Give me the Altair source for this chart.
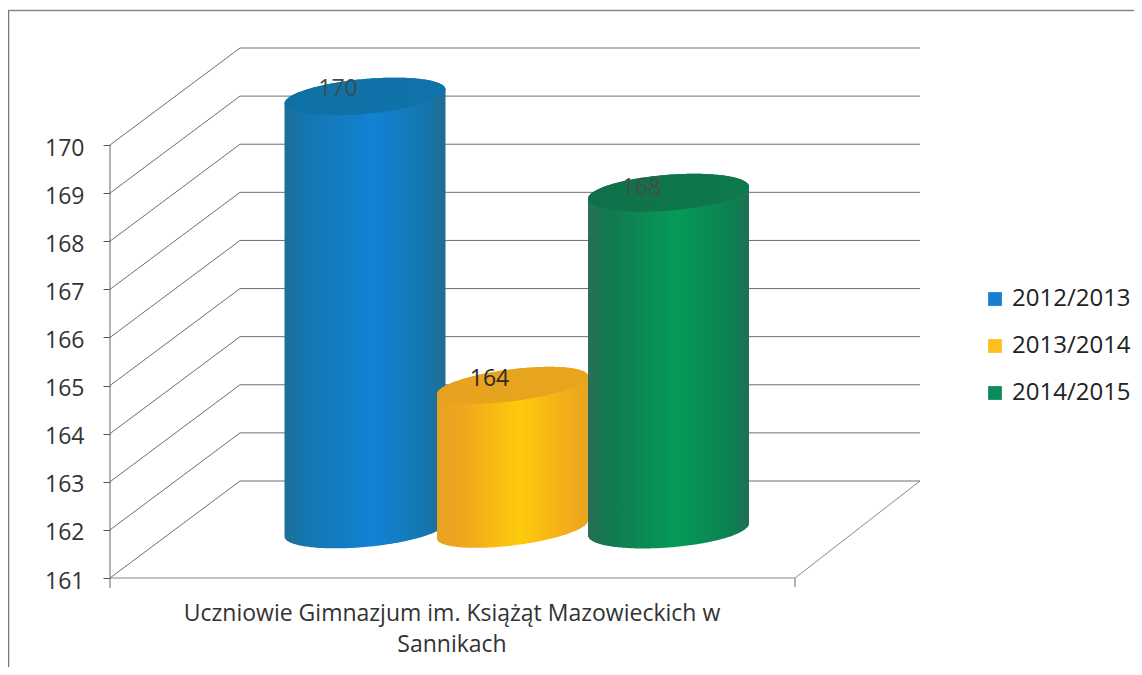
import numpy as np
import pandas as pd
import altair as alt

# ---- chart values
SERIES = ["2012/2013", "2013/2014", "2014/2015"]
VALUES = [170, 164, 168]
TICKS = [161, 162, 163, 164, 165, 166, 167, 168, 169, 170]
CATEGORY = "Uczniowie Gimnazjum im. Książąt Mazowieckich w\nSannikach"

# ---- layout of the oblique projection (page px)
PX_PER_UNIT = 48.11
Y0 = 578.0
BASE = 161
W, H = 1126, 659
def v_of(py):
    return BASE + (Y0 - py) / PX_PER_UNIT
DEPTH = 97 / PX_PER_UNIT
AXIS_X, BACK_X, FRONT_R, BACK_R = 110, 240, 795, 920

XS = alt.Scale(domain=[8, 8 + W], nice=False, zero=False)
YS = alt.Scale(domain=[v_of(8 + H), v_of(8)], nice=False, zero=False)
Y_AXIS = alt.Axis(
    values=TICKS, orient="left", offset=-(AXIS_X - 8), domain=False, grid=False,
    tickSize=7, tickColor="#555555", tickWidth=1, labelPadding=19, title=None, labelOffset=3,
    labelFont="Open Sans", labelFontSize=23, labelColor="#333333", format="d")
X = lambda f: alt.X(f, type="quantitative", scale=XS, axis=None)
Y = lambda f: alt.Y(f, type="quantitative", scale=YS, axis=Y_AXIS, title=None)

def grad(stops):
    return alt.Gradient(gradient="linear", x1=0, x2=1, y1=0, y2=0,
                        stops=[alt.GradientStop(offset=o, color=c) for o, c in stops])

CENTERS = [365, 512.5, 668.5]
HALFW = [80.5, 75.5, 80.5]
SEMI = [17.5, 16, 18]
TILT = [7, 9, 6]
BODY = [
    [(0, "#1d6f96"), (0.12, "#1476ae"), (0.55, "#1282d4"), (0.88, "#1476ae"), (1, "#216c90")],
    [(0, "#e8a024"), (0.2, "#f0a91c"), (0.55, "#fecb0c"), (0.85, "#f3ae18"), (1, "#eaa420")],
    [(0, "#2a6e58"), (0.12, "#12784f"), (0.55, "#059b58"), (0.88, "#0c8051"), (1, "#1f7055")],
]
CAP = [
    [(0, "#0f70a4"), (1, "#0f74ab")],
    [(0, "#e6a21f"), (1, "#e8a61c")],
    [(0, "#0f7049"), (1, "#0d7a4c")],
]
LABEL_DX = [-27, -23, -27]
LABEL_DY = [-8, -6, -5]
LABEL_C = ["#3f4a52", "#2b2b2b", "#4a4a4a"]

def edges(cx, a, b, k, cy_value):
    """upper and lower outline of an oblique disc centred at cy_value"""
    t = np.linspace(np.pi, 0, 121)
    dx = a * np.cos(t)
    cy = Y0 - (cy_value - BASE) * PX_PER_UNIT
    mid = cy - k * dx / a
    half = b * np.sin(t)
    return cx + dx, mid - half, mid + half

grid_rows = []
for v in TICKS:
    for i, (x, val) in enumerate([(AXIS_X, v), (BACK_X, v + DEPTH), (BACK_R, v + DEPTH)]):
        grid_rows.append(dict(v=v, i=i, x=x, y=val))
grid = pd.DataFrame(grid_rows)

floor = pd.DataFrame([
    dict(i=0, x=AXIS_X, y=BASE), dict(i=1, x=FRONT_R, y=BASE), dict(i=2, x=BACK_R, y=BASE + DEPTH)
])
vert = pd.DataFrame([
    dict(x=AXIS_X, y=v_of(Y0 + 10), y2=TICKS[-1]),
    dict(x=FRONT_R, y=v_of(Y0 + 9), y2=BASE),
])
frame_l = pd.DataFrame([dict(x=8.5, y=v_of(10), y2=v_of(667))])
frame_t = pd.DataFrame([dict(x=8.5, x2=8 + W, y=v_of(10.5))])

layers = []
layers.append(alt.Chart(frame_l).mark_rule(color="#777777", strokeWidth=1.5).encode(x=X("x"), y=Y("y"), y2="y2"))
layers.append(alt.Chart(frame_t).mark_rule(color="#888888", strokeWidth=1.5).encode(x=X("x"), x2="x2", y=Y("y")))
layers.append(alt.Chart(grid).mark_line(color="#6f6f6f", strokeWidth=1).encode(
    x=X("x"), y=Y("y"), detail="v:N", order="i:Q"))
layers.append(alt.Chart(floor).mark_line(color="#8a8a8a", strokeWidth=1).encode(x=X("x"), y=Y("y"), order="i:Q"))
layers.append(alt.Chart(vert).mark_rule(color="#666666", strokeWidth=1).encode(x=X("x"), y=Y("y"), y2="y2"))

# legend driver, sits hidden behind the cylinders
legend_df = pd.DataFrame({"s": SERIES, "x": CENTERS, "y": [v + DEPTH / 2 - 2 for v in VALUES]})
layers.append(alt.Chart(legend_df).mark_square(size=20, opacity=1).encode(
    x=X("x"), y=Y("y"),
    color=alt.Color("s:N", title=None, scale=alt.Scale(domain=SERIES, range=["#1280cf", "#fdc020", "#0c8a5c"]),
        legend=alt.Legend(orient="none", legendX=975, legendY=279, symbolType="square", symbolSize=190,
                          labelFont="Open Sans", labelFontSize=24, labelColor="#222222",
                          rowPadding=23, padding=0, symbolOpacity=1, labelOffset=5)),
))

for i, s in enumerate(SERIES):
    xs, top_up, top_lo = edges(CENTERS[i], HALFW[i], SEMI[i], TILT[i], VALUES[i] + DEPTH / 2)
    _, bot_up, bot_lo = edges(CENTERS[i], HALFW[i], SEMI[i], TILT[i], BASE + DEPTH / 2)
    df = pd.DataFrame({
        "x": xs,
        "up": [v_of(p) for p in top_up],
        "lo": [v_of(p) for p in top_lo],
        "bt": [v_of(p) for p in bot_lo],
    })
    layers.append(alt.Chart(df).mark_area(fill=grad(BODY[i]), line=False).encode(x=X("x"), y=Y("up"), y2="bt"))
    layers.append(alt.Chart(df).mark_area(fill=grad(CAP[i]), line=False).encode(x=X("x"), y=Y("up"), y2="lo"))
    lab = pd.DataFrame({"x": [CENTERS[i]], "y": [VALUES[i] + DEPTH / 2], "t": [str(VALUES[i])]})
    layers.append(alt.Chart(lab).mark_text(font="Open Sans", fontSize=23, color=LABEL_C[i],
                                           dx=LABEL_DX[i], dy=LABEL_DY[i]).encode(x=X("x"), y=Y("y"), text="t:N"))

cat = pd.DataFrame({"x": [452], "y": [v_of(614)], "t": [CATEGORY]})
layers.append(alt.Chart(cat).mark_text(font="Open Sans", fontSize=23, color="#333333", align="center",
                                       baseline="middle", lineBreak="\n", lineHeight=31).encode(
    x=X("x"), y=Y("y"), text="t:N"))

chart = alt.layer(*layers).properties(
    width=W, height=H, padding=0, background="white",
    autosize=alt.AutoSizeParams(type="none"),
).configure_view(stroke=None)

chart.save("out.html", embed_options={"renderer": "svg", "actions": False})
